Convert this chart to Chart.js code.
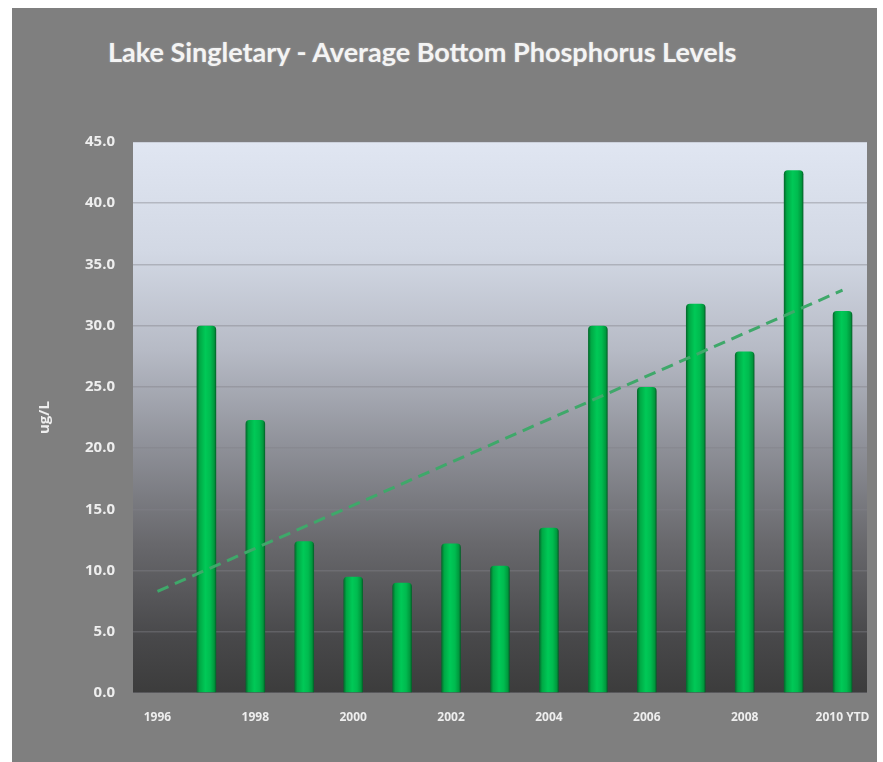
<!DOCTYPE html>
<html>
<head>
<meta charset="utf-8">
<script src="https://cdn.jsdelivr.net/npm/chart.js@4/dist/chart.umd.min.js"></script>
<style>
  body { margin: 0; background: #ffffff; }
  #panel { position: absolute; left: 12px; top: 8px; width: 865px; height: 754px; background: #7f7f7f; }
  #title { position: absolute; left: 96px; top: 28px; font-family: Lato, sans-serif; font-weight: bold;
           font-size: 27px; line-height: 32px; color: #f4f4f4; white-space: nowrap;
           text-shadow: 0 0 2px rgba(255,255,255,0.35); }
  canvas { position: absolute; left: 0; top: 0; }
</style>
</head>
<body>
<div id="panel">
  <div id="title">Lake Singletary - Average Bottom Phosphorus Levels</div>
  <canvas id="chart" width="865" height="754"></canvas>
</div>
<script>
// values
const years = ['1996', '1997', '1998', '1999', '2000', '2001', '2002', '2003',
               '2004', '2005', '2006', '2007', '2008', '2009', '2010 YTD'];
const phosphorus = [null, 30.0, 22.3, 12.4, 9.5, 9.0, 12.2, 10.4, 13.5, 30.0, 25.0, 31.8, 27.9, 42.7, 31.2];
const trendEnds = [8.3, null, null, null, null, null, null, null, null, null, null, null, null, null, 32.9];
const yTicksMax = 45;
const yStep = 5;

// plot area background: light blue-grey at top fading to charcoal
const plotBackground = {
  id: 'plotBackground',
  beforeDraw(chart) {
    const { ctx, chartArea: a } = chart;
    const g = ctx.createLinearGradient(0, a.top, 0, a.bottom);
    g.addColorStop(0, '#e0e6f2');
    g.addColorStop(0.2, '#d2d8e4');
    g.addColorStop(0.38, '#b6bac5');
    g.addColorStop(0.55, '#8f9199');
    g.addColorStop(0.73, '#68686c');
    g.addColorStop(0.9, '#48484a');
    g.addColorStop(1, '#3c3c3c');
    ctx.save();
    ctx.fillStyle = g;
    ctx.fillRect(a.left, a.top, a.right - a.left, a.bottom - a.top);
    ctx.restore();
  }
};

// cylinder look: horizontal gradient across each bar
function barFill(context) {
  const chart = context.chart;
  const xs = chart.scales.x;
  if (!xs || !chart.chartArea) return '#00b84c';
  const cx = xs.getPixelForValue(context.dataIndex);
  const half = (xs.width / years.length) * 0.4 / 2;
  const g = chart.ctx.createLinearGradient(cx - half, 0, cx + half, 0);
  g.addColorStop(0, '#05632a');
  g.addColorStop(0.15, '#00a844');
  g.addColorStop(0.45, '#00c957');
  g.addColorStop(0.7, '#00bb4f');
  g.addColorStop(0.9, '#00983d');
  g.addColorStop(1, '#045a26');
  return g;
}

const tickColor = '#eeeeee';

new Chart(document.getElementById('chart'), {
  data: {
    labels: years,
    datasets: [{
      type: 'line',
      label: 'Trend',
      data: trendEnds,
      spanGaps: true,
      borderColor: '#3fa86a',
      borderWidth: 3,
      borderDash: [12, 7],
      pointRadius: 0,
      fill: false,
      order: 0
    }, {
      type: 'bar',
      label: 'ug/L',
      data: phosphorus,
      backgroundColor: barFill,
      borderWidth: 0,
      borderRadius: { topLeft: 4, topRight: 4 },
      borderSkipped: 'bottom',
      barPercentage: 0.4,
      categoryPercentage: 1.0,
      order: 1
    }]
  },
  options: {
    responsive: false,
    animation: false,
    layout: { padding: { top: 134, left: 20, right: 10, bottom: 37 } },
    plugins: {
      legend: { display: false },
      tooltip: { enabled: false }
    },
    scales: {
      x: {
        grid: { display: false, drawTicks: false },
        border: { display: false },
        ticks: {
          autoSkip: false,
          maxRotation: 0,
          padding: 17,
          color: tickColor,
          font: { family: 'Open Sans', weight: 'bold', size: 12 },
          callback: function (v, i) { return i % 2 === 0 ? this.getLabelForValue(v) : ''; }
        },
        afterFit(scale) {
          scale.height = 32;
          scale.paddingLeft = 0;
          scale.paddingRight = 0;
        }
      },
      y: {
        min: 0,
        max: yTicksMax,
        grid: { color: 'rgba(128,128,135,0.42)', lineWidth: 1.5, drawTicks: false },
        border: { display: false },
        ticks: {
          stepSize: yStep,
          padding: 18,
          color: tickColor,
          font: { family: 'Open Sans', weight: 'bold', size: 15 },
          callback: v => v.toFixed(1)
        },
        title: {
          display: true,
          text: 'ug/L',
          color: tickColor,
          font: { family: 'Open Sans', weight: 'bold', size: 15 },
          padding: { top: 4, bottom: 30 }
        },
        afterFit(scale) { scale.width = 101; }
      }
    }
  },
  plugins: [plotBackground]
});
</script>
</body>
</html>
